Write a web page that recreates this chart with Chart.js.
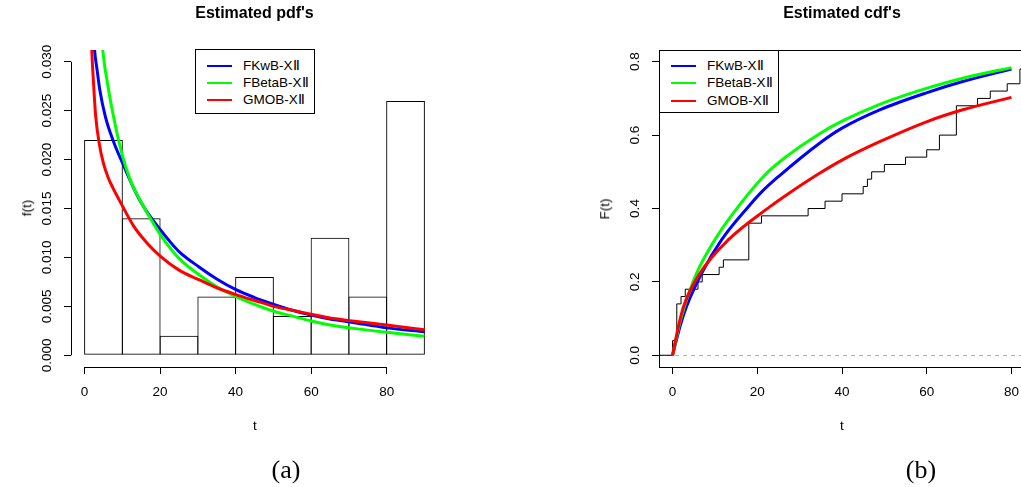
<!DOCTYPE html>
<html>
<head>
<meta charset="utf-8">
<script src="https://cdn.jsdelivr.net/npm/chart.js@4.4.0/dist/chart.umd.min.js"></script>
<style>
html, body { margin: 0; padding: 0; width: 1021px; height: 487px; overflow: hidden; background: #fff; }
body { position: relative; font-family: "Liberation Sans", Arial, sans-serif; color: #000; }
canvas { position: absolute; top: 0; }
#pdf { left: 0; }
#cdf { left: 520px; }
.lbl { position: absolute; line-height: 1; white-space: nowrap; transform: translate(-50%, -50%); }
.rot { transform: translate(-50%, -50%) rotate(-90deg); }
.main { font-weight: bold; font-size: 16px; }
.axt { font-size: 13.5px; }
.cap { font-family: "Liberation Serif", "Times New Roman", serif; font-size: 26px; }
.legend { position: absolute; border: 1px solid #000; background: #fff; box-sizing: border-box; }
.legend div { position: absolute; font-size: 13.5px; line-height: 1; transform: translateY(-50%); white-space: nowrap; }
.legend span { position: absolute; height: 1.5px; }
</style>
</head>
<body>
<canvas id="pdf" width="520" height="487"></canvas>
<canvas id="cdf" width="520" height="487"></canvas>

<div class="lbl main" style="left:254.5px; top:13px">Estimated pdf's</div>
<div class="lbl main" style="left:842px; top:13px">Estimated cdf's</div>
<div class="lbl axt rot" style="left:27px; top:208px">f(t)</div>
<div class="lbl axt rot" style="left:605px; top:209px">F(t)</div>
<div class="lbl axt" style="left:255px; top:426px">t</div>
<div class="lbl axt" style="left:842px; top:426px">t</div>
<div class="lbl cap" style="left:286px; top:470px">(a)</div>
<div class="lbl cap" style="left:921px; top:470px">(b)</div>

<div class="legend" id="legPdf" style="left:195px; top:49px; width:120px; height:65px"></div>
<div class="legend" id="legCdf" style="left:659px; top:50px; width:120px; height:63px"></div>

<script>
var seriesNames = ["FKwB-X\u2161", "FBetaB-X\u2161", "GMOB-X\u2161"];

// histogram: bin mid points and densities
var binMids = [5, 15, 25, 35, 45, 55, 65, 75, 85];
var binDensity = [0.022, 0.014, 0.002, 0.006, 0.008, 0.004, 0.012, 0.006, 0.026];

// fitted pdf's
var pdfKwT = [2.0, 2.6, 3.3, 4, 5.5, 7.7, 10.1, 12.5, 14.7, 16.8, 20.1, 22.2, 25, 30.4, 35, 40.1, 45, 50.1, 55, 60, 65, 70.3, 80, 90];
var pdfKwF = [0.036, 0.0314, 0.0292, 0.0272, 0.0244, 0.0218, 0.0196, 0.0175, 0.0158, 0.0145, 0.0128, 0.0118, 0.0106, 0.0090, 0.0078, 0.0067, 0.0059, 0.0052, 0.0046, 0.0041, 0.0037, 0.0034, 0.0028, 0.0024];
var pdfBetaT = [3.6, 4.8, 6.5, 8.3, 10.1, 12, 14.2, 16.8, 20.1, 25, 30.4, 35, 40.1, 45, 50.1, 55, 60, 65, 70.3, 80, 90];
var pdfBetaF = [0.037, 0.0312, 0.0268, 0.0232, 0.0203, 0.0180, 0.0162, 0.0144, 0.0123, 0.0099, 0.0082, 0.0070, 0.0060, 0.0052, 0.0045, 0.0040, 0.0035, 0.0031, 0.0028, 0.00235, 0.00195];
var pdfMobT = [1.0, 1.9, 2.4, 2.9, 3.9, 5, 6.2, 7.5, 10.1, 13, 16.7, 20.1, 25, 30.4, 35, 40.1, 45, 50.1, 55, 60, 65, 70.3, 80, 90];
var pdfMobF = [0.042, 0.0312, 0.0276, 0.0246, 0.0216, 0.0196, 0.0182, 0.0171, 0.0152, 0.0132, 0.0114, 0.0101, 0.0087, 0.0077, 0.0069, 0.0062, 0.0056, 0.0050, 0.0046, 0.0042, 0.0038, 0.00354, 0.0031, 0.0026];

// empirical cdf: jump points and levels
var ecdfT = [0, 1, 2, 3, 6, 7, 11, 12, 18, 21, 32, 36, 40, 45, 46, 47, 50, 55, 60, 63, 67, 72, 75, 79, 82];
var ecdfF = [0.04, 0.14, 0.16, 0.18, 0.20, 0.22, 0.24, 0.26, 0.36, 0.38, 0.40, 0.42, 0.44, 0.46, 0.48, 0.50, 0.52, 0.54, 0.56, 0.60, 0.68, 0.70, 0.72, 0.74, 0.78];

// fitted cdf's
var cdfKwT = [0, 1.77, 3.3, 6.9, 11.6, 17.9, 21.1, 25, 34.7, 40, 48.9, 60.1, 68.5, 80];
var cdfKwF = [0, 0.079, 0.133, 0.224, 0.315, 0.405, 0.446, 0.487, 0.578, 0.619, 0.669, 0.716, 0.746, 0.78];
var cdfBetaT = [0, 1.5, 2.8, 5.7, 10, 15.5, 22.2, 26.9, 34.7, 40, 48.9, 60.1, 68.5, 80];
var cdfBetaF = [0, 0.079, 0.133, 0.224, 0.315, 0.405, 0.496, 0.542, 0.604, 0.638, 0.684, 0.728, 0.755, 0.784];
var cdfMobT = [0, 1.4, 2.6, 6.5, 13.2, 23, 26.9, 34.7, 40, 48.9, 60.1, 68.5, 80];
var cdfMobF = [0, 0.079, 0.133, 0.224, 0.315, 0.405, 0.437, 0.496, 0.532, 0.582, 0.637, 0.669, 0.703];

// axes
var xTicks = [0, 20, 40, 60, 80];
var xTickLabels = ["0", "20", "40", "60", "80"];
var pdfYTicks = [0, 0.005, 0.010, 0.015, 0.020, 0.025, 0.030];
var pdfYLabels = ["0.000", "0.005", "0.010", "0.015", "0.020", "0.025", "0.030"];
var cdfYTicks = [0, 0.2, 0.4, 0.6, 0.8];
var cdfYLabels = ["0.0", "0.2", "0.4", "0.6", "0.8"];
var pdfXLim = [-3.6, 93.6], pdfYLim = [-0.0012, 0.0312];
var cdfXLim = [-3.2, 83.2], cdfYLim = [-0.032, 0.832];
var cdfHLines = [0];

var colors = ["#0000ff", "#00ff00", "#ff0000"];

Chart.defaults.font.family = '"Liberation Sans", Arial, sans-serif';
Chart.defaults.color = "#000";

function pts(xs, ys) {
	return xs.map(function(x, i) { return { x: x, y: ys[i] }; });
}

function curve(name, data, color, order) {
	return {
		type: "line", label: name, data: data, order: order,
		borderColor: color, borderWidth: 3, pointRadius: 0,
		cubicInterpolationMode: "monotone", clip: 0
	};
}

function xAxis(lim) {
	return {
		type: "linear", min: lim[0], max: lim[1], offset: false,
		afterBuildTicks: function(s) { s.ticks = xTicks.map(function(v) { return { value: v }; }); },
		afterFit: function(s) { s.height = 40; },
		border: { display: false },
		grid: { drawOnChartArea: false, offset: false, tickLength: 7, color: "#000" },
		ticks: {
			autoSkip: false, maxRotation: 0, padding: 10, font: { size: 13.5 },
			callback: function(v, i) { return xTickLabels[i]; }
		}
	};
}

function yAxis(lim, ticks) {
	return {
		type: "linear", min: lim[0], max: lim[1],
		afterBuildTicks: function(s) { s.ticks = ticks.map(function(v) { return { value: v }; }); },
		afterFit: function(s) { s.width = 40; },
		border: { display: false },
		grid: { drawOnChartArea: false, tickLength: 7, color: "#000" },
		ticks: { display: false }
	};
}

// R-style axes: axis lines only across the ticks, y labels parallel to the axis
var rAxes = {
	id: "rAxes",
	beforeDatasetsDraw: function(chart, args, o) {
		var ctx = chart.ctx, a = chart.chartArea, y = chart.scales.y;
		ctx.save();
		ctx.strokeStyle = "#b3b3b3";
		ctx.lineWidth = 1;
		ctx.setLineDash([4, 4]);
		(o.hlines || []).forEach(function(v) {
			var py = Math.round(y.getPixelForValue(v)) + 0.5;
			ctx.beginPath();
			ctx.moveTo(a.left, py);
			ctx.lineTo(a.right, py);
			ctx.stroke();
		});
		ctx.restore();
	},
	afterDraw: function(chart, args, o) {
		var ctx = chart.ctx, a = chart.chartArea, x = chart.scales.x, y = chart.scales.y;
		ctx.save();
		ctx.strokeStyle = "#000";
		ctx.lineWidth = 1;
		ctx.beginPath();
		ctx.moveTo(x.getPixelForValue(xTicks[0]), a.bottom + 0.5);
		ctx.lineTo(x.getPixelForValue(xTicks[xTicks.length - 1]), a.bottom + 0.5);
		ctx.moveTo(a.left + 0.5, y.getPixelForValue(o.yTicks[0]));
		ctx.lineTo(a.left + 0.5, y.getPixelForValue(o.yTicks[o.yTicks.length - 1]));
		ctx.stroke();
		if (o.box) {
			ctx.strokeRect(a.left + 0.5, a.top + 0.5, a.right - a.left, a.bottom - a.top);
		}
		ctx.fillStyle = "#000";
		ctx.font = '13.5px "Liberation Sans", Arial, sans-serif';
		ctx.textAlign = "center";
		ctx.textBaseline = "middle";
		o.yTicks.forEach(function(v, i) {
			ctx.save();
			ctx.translate(a.left - 24, y.getPixelForValue(v));
			ctx.rotate(-Math.PI / 2);
			ctx.fillText(o.yLabels[i], 0, 0);
			ctx.restore();
		});
		ctx.restore();
	}
};

var common = {
	responsive: false, maintainAspectRatio: false, devicePixelRatio: 1,
	animation: false, events: []
};

new Chart(document.getElementById("pdf"), {
	type: "bar",
	data: {
		datasets: [
			curve(seriesNames[2], pts(pdfMobT, pdfMobF), colors[2], 1),
			curve(seriesNames[1], pts(pdfBetaT, pdfBetaF), colors[1], 2),
			curve(seriesNames[0], pts(pdfKwT, pdfKwF), colors[0], 3),
			{
				type: "bar", label: "hist", data: pts(binMids, binDensity), order: 10,
				backgroundColor: "rgba(0,0,0,0)", borderColor: "#000", borderWidth: 1,
				borderSkipped: false, inflateAmount: 0,
				// a hair wider than the bin so neighbouring edges overlap into one line
				barPercentage: 1.026, categoryPercentage: 1, grouped: false
			}
		]
	},
	options: Object.assign({}, common, {
		layout: { padding: { left: 31, right: 82, top: 50, bottom: 80 } },
		scales: { x: xAxis(pdfXLim), y: yAxis(pdfYLim, pdfYTicks) },
		plugins: {
			legend: { display: false }, tooltip: { enabled: false },
			rAxes: { yTicks: pdfYTicks, yLabels: pdfYLabels, box: false }
		}
	}),
	plugins: [rAxes]
});

var ecdfData = [{ x: cdfXLim[0], y: 0 }].concat(pts(ecdfT, ecdfF), [{ x: 90, y: ecdfF[ecdfF.length - 1] }]);

new Chart(document.getElementById("cdf"), {
	type: "line",
	data: {
		datasets: [
			curve(seriesNames[2], pts(cdfMobT, cdfMobF), colors[2], 1),
			curve(seriesNames[1], pts(cdfBetaT, cdfBetaF), colors[1], 2),
			curve(seriesNames[0], pts(cdfKwT, cdfKwF), colors[0], 3),
			{
				label: "ecdf", data: ecdfData, order: 10, stepped: "before",
				borderColor: "#000", borderWidth: 1, pointRadius: 0, clip: 0
			}
		]
	},
	options: Object.assign({}, common, {
		layout: { padding: { left: 99, right: 15, top: 50, bottom: 80 } },
		scales: { x: xAxis(cdfXLim), y: yAxis(cdfYLim, cdfYTicks) },
		plugins: {
			legend: { display: false }, tooltip: { enabled: false },
			rAxes: { yTicks: cdfYTicks, yLabels: cdfYLabels, box: true, hlines: cdfHLines }
		}
	}),
	plugins: [rAxes]
});

// legends
function legend(id, rows, lineLeft, textLeft) {
	var box = document.getElementById(id);
	seriesNames.forEach(function(name, i) {
		var ln = document.createElement("span");
		ln.style.left = lineLeft + "px";
		ln.style.width = "25px";
		ln.style.top = rows[i] + "px";
		ln.style.background = colors[i];
		box.appendChild(ln);
		var tx = document.createElement("div");
		tx.style.left = textLeft + "px";
		tx.style.top = (rows[i] + 1) + "px";
		tx.textContent = name;
		box.appendChild(tx);
	});
}
legend("legPdf", [15, 32, 49], 11, 47);
legend("legCdf", [14, 31, 49], 11, 47);
</script>
</body>
</html>
